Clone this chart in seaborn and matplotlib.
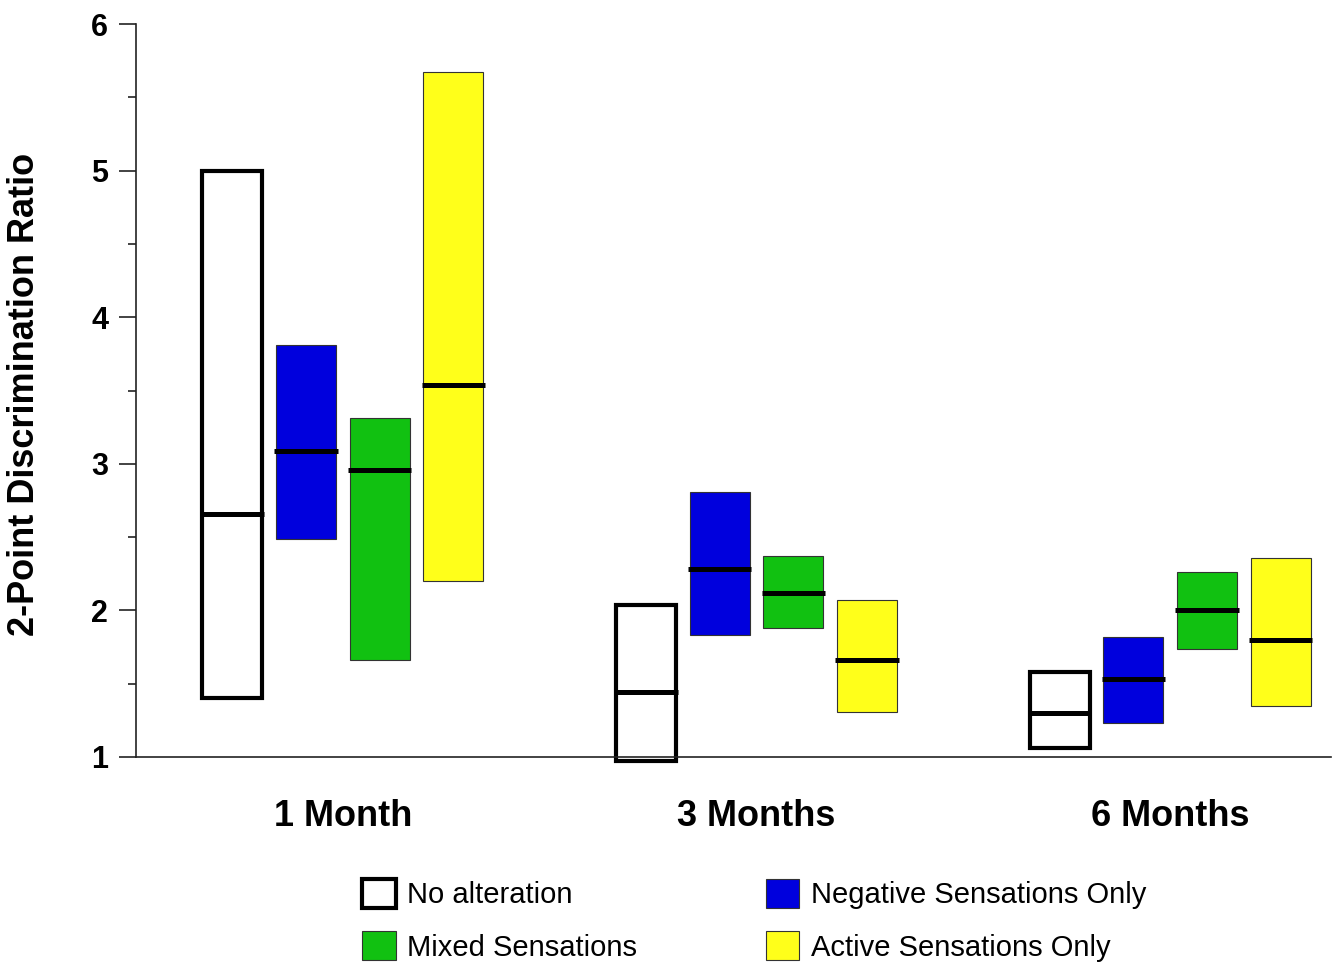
import numpy as np
import pandas as pd
import matplotlib
matplotlib.use("Agg")
import matplotlib.pyplot as plt
import seaborn as sns
from matplotlib.patches import Patch

# data
timepoints = ["1 Month", "3 Months", "6 Months"]
groups = ["No alteration", "Negative Sensations Only", "Mixed Sensations", "Active Sensations Only"]
low = {
    "No alteration": [1.40, 0.97, 1.06],
    "Negative Sensations Only": [2.49, 1.83, 1.23],
    "Mixed Sensations": [1.66, 1.88, 1.74],
    "Active Sensations Only": [2.20, 1.31, 1.35],
}
high = {
    "No alteration": [5.00, 2.04, 1.58],
    "Negative Sensations Only": [3.81, 2.81, 1.82],
    "Mixed Sensations": [3.31, 2.37, 2.26],
    "Active Sensations Only": [5.67, 2.07, 2.36],
}
median = {
    "No alteration": [2.66, 1.44, 1.30],
    "Negative Sensations Only": [3.09, 2.28, 1.53],
    "Mixed Sensations": [2.96, 2.12, 2.00],
    "Active Sensations Only": [3.54, 1.66, 1.80],
}
colors = {
    "No alteration": "white",
    "Negative Sensations Only": "#0000dd",
    "Mixed Sensations": "#11c111",
    "Active Sensations Only": "#ffff1a",
}

sns.set_theme(style="white")
plt.rcParams["font.family"] = ["Liberation Sans", "DejaVu Sans"]
plt.rcParams["text.color"] = "black"
plt.rcParams["axes.labelcolor"] = "black"
plt.rcParams["xtick.color"] = "black"
plt.rcParams["ytick.color"] = "black"

fig = plt.figure(figsize=(13.39, 9.66), dpi=100)
ax = fig.add_axes([136 / 1339, 1 - 757 / 966, 1195 / 1339, 733 / 966])

pitch = 0.178
width = 0.145
x = np.arange(len(timepoints))
for i, g in enumerate(groups):
    xs = x + (i - 1.5) * pitch
    lo = np.array(low[g])
    hi = np.array(high[g])
    if g == "No alteration":
        ax.bar(xs, hi - lo, bottom=lo, width=width, color="white",
               edgecolor="black", linewidth=3, clip_on=False, zorder=2)
    else:
        ax.bar(xs, hi - lo, bottom=lo, width=width, color=colors[g],
               edgecolor="#333333", linewidth=0.8, clip_on=False, zorder=2)
    ax.hlines(median[g], xs - width / 2 - 0.004, xs + width / 2 + 0.004,
              color="black", linewidth=3.6, zorder=3, clip_on=False)

ax.set_ylim(1, 6)
ax.set_xlim(-0.5, 2.389)
ax.set_yticks([1, 2, 3, 4, 5, 6])
ax.set_yticks(np.arange(1.5, 6, 1), minor=True)
ax.set_xticks(x)
ax.set_xticklabels(timepoints, fontsize=26, fontweight="bold")
ax.tick_params(axis="x", length=0, pad=30)
ax.tick_params(axis="y", which="major", length=12, width=1.2, direction="out",
               labelsize=22, pad=8, left=True, color="#222222")
ax.tick_params(axis="y", which="minor", length=6, width=1.2, direction="out",
               left=True, color="#222222")
for lab in ax.get_yticklabels():
    lab.set_fontweight("bold")

sns.despine(ax=ax)
ax.spines["left"].set_color("#222222")
ax.spines["bottom"].set_color("#222222")
ax.spines["left"].set_linewidth(1.2)
ax.spines["bottom"].set_linewidth(1.2)

ax.set_ylabel("2-Point Discrimination Ratio", fontsize=26, fontweight="bold")
ax.yaxis.set_label_coords(-0.079, 0.495)

order = ["No alteration", "Mixed Sensations", "Negative Sensations Only", "Active Sensations Only"]
handles = []
for g in order:
    if g == "No alteration":
        handles.append(Patch(facecolor="white", edgecolor="black", linewidth=3, label=g))
    else:
        handles.append(Patch(facecolor=colors[g], edgecolor="#333333", linewidth=0.8, label=g))
fig.legend(handles=handles, loc="upper left", bbox_to_anchor=(362 / 1339, 1 - 879 / 966),
           ncol=2, frameon=False, fontsize=21, handlelength=1.15, handleheight=1.15,
           handletextpad=0.4, columnspacing=4.4, labelspacing=0.75,
           borderpad=0, borderaxespad=0)

fig.savefig("out.png", dpi=100)
